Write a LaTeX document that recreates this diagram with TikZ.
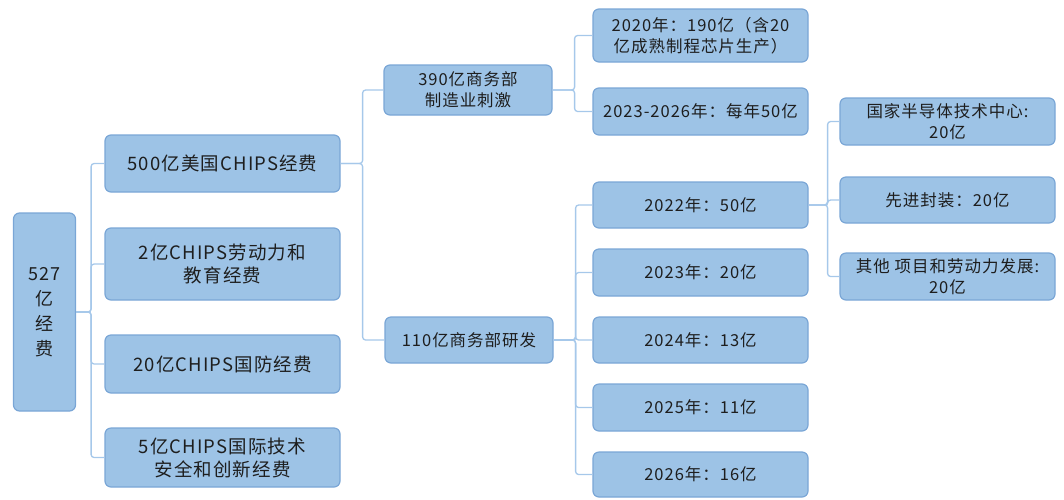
\documentclass[tikz,border=0pt]{standalone}
\usepackage{fontspec}
\setmainfont{Noto Sans CJK SC}[LetterSpace=6]
\definecolor{boxfill}{HTML}{9DC3E6}
\definecolor{boxline}{HTML}{7AA6D6}
\definecolor{connline}{HTML}{A6C8EA}
\definecolor{txt}{HTML}{1E1E1E}
\begin{document}
\begin{tikzpicture}[x=1pt,y=-1pt,
  box/.style={draw=boxline, line width=1.2pt, fill=boxfill, rounded corners=6pt,
    text=txt, align=center, inner sep=2pt, anchor=center},
  big/.style={box, font=\fontsize{18.5}{23}\selectfont},
  mid/.style={box, font=\fontsize{16.5}{21}\selectfont},
  small/.style={box, font=\fontsize{16.5}{21}\selectfont},
  conn/.style={draw=connline, line width=1.3pt, rounded corners=3pt}]
\useasboundingbox (0,0) rectangle (1064,499);
% root
\node[big, minimum width=62pt, minimum height=198pt, font=\fontsize{18}{25}\selectfont] (root) at (44.5,312) {527\\亿\\经\\费};
% level 1
\node[big, minimum width=235pt, minimum height=57pt] (a1) at (222.5,163.5) {500亿美国CHIPS经费};
\node[big, minimum width=235pt, minimum height=72pt] (a2) at (222.5,264) {2亿CHIPS劳动力和\\教育经费};
\node[big, minimum width=235pt, minimum height=58pt] (a3) at (222.5,364) {20亿CHIPS国防经费};
\node[big, minimum width=235pt, minimum height=59pt] (a4) at (222.5,457.5) {5亿CHIPS国际技术\\安全和创新经费};
% level 2
\node[mid, minimum width=168pt, minimum height=50pt] (b1) at (468,90) {390亿商务部\\制造业刺激};
\node[mid, minimum width=168pt, minimum height=46pt] (b2) at (469,340) {110亿商务部研发};
% level 3
\node[small, minimum width=215pt, minimum height=53pt] (c1) at (700.5,35.5) {2020年：190亿（含20\\亿成熟制程芯片生产）};
\node[small, minimum width=215pt, minimum height=47pt] (c2) at (700.5,111.5) {2023-2026年：每年50亿};
\node[small, minimum width=215pt, minimum height=46pt] (d1) at (700.5,205) {2022年：50亿};
\node[small, minimum width=215pt, minimum height=47pt] (d2) at (700.5,272.5) {2023年：20亿};
\node[small, minimum width=215pt, minimum height=46pt] (d3) at (700.5,340) {2024年：13亿};
\node[small, minimum width=215pt, minimum height=47pt] (d4) at (700.5,407.5) {2025年：11亿};
\node[small, minimum width=215pt, minimum height=45pt] (d5) at (700.5,474.5) {2026年：16亿};
% level 4
\node[small, minimum width=215pt, minimum height=47pt] (e1) at (947.5,121.5) {国家半导体技术中心:\\20亿};
\node[small, minimum width=215pt, minimum height=46pt] (e2) at (947.5,200) {先进封装：20亿};
\node[small, minimum width=215pt, minimum height=47pt] (e3) at (947.5,276.5) {其他 项目和劳动力发展:\\20亿};
% connectors
\foreach \t in {a1,a2,a3,a4} \draw[conn] (root.east) -- ++(15,0) |- (\t.west);
\foreach \t in {b1,b2} \draw[conn] (a1.east) -- ++(22,0) |- (\t.west);
\foreach \t in {c1,c2} \draw[conn] (b1.east) -- ++(22,0) |- (\t.west);
\foreach \t in {d1,d2,d3,d4,d5} \draw[conn] (b2.east) -- ++(22,0) |- (\t.west);
\foreach \t in {e1,e2,e3} \draw[conn] (d1.east) -- ++(19,0) |- (\t.west);
\end{tikzpicture}
\end{document}
